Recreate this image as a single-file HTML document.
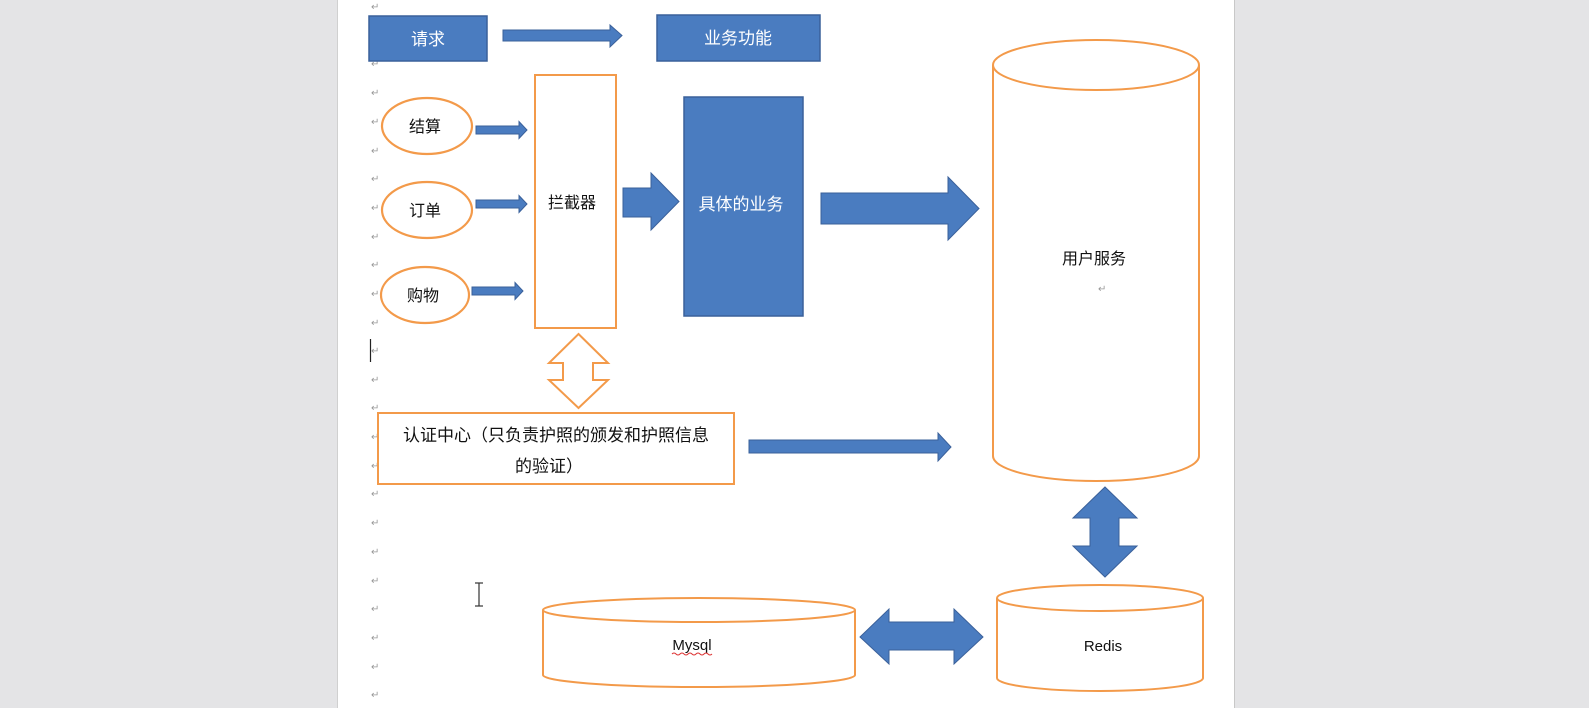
<!DOCTYPE html>
<html><head><meta charset="utf-8"><style>
html,body{margin:0;padding:0;background:#e4e4e6;}
svg{display:block;}
text{font-family:"Liberation Sans","Noto Sans CJK SC",sans-serif;}
</style></head><body>
<svg width="1589" height="708" viewBox="0 0 1589 708" xmlns="http://www.w3.org/2000/svg">
<rect x="0" y="0" width="1589" height="708" fill="#e4e4e6"/>
<rect x="338" y="0" width="896" height="708" fill="#ffffff"/>
<line x1="1234.5" y1="0" x2="1234.5" y2="708" stroke="#c8c8c8" stroke-width="1"/>
<line x1="337.5" y1="0" x2="337.5" y2="708" stroke="#d0d0d0" stroke-width="1"/>

<!-- return marks -->
<g fill="#999" font-size="10">
<text x="371" y="10">↵</text>
<text x="371" y="67">↵</text><text x="371" y="96">↵</text><text x="371" y="125">↵</text>
<text x="371" y="154">↵</text><text x="371" y="182">↵</text><text x="371" y="211">↵</text>
<text x="371" y="240">↵</text><text x="371" y="268">↵</text><text x="371" y="297">↵</text>
<text x="371" y="326">↵</text><text x="371" y="354">↵</text><text x="371" y="383">↵</text>
<text x="371" y="411">↵</text><text x="371" y="440">↵</text><text x="371" y="469">↵</text>
<text x="371" y="497">↵</text><text x="371" y="526">↵</text><text x="371" y="555">↵</text>
<text x="371" y="584">↵</text><text x="371" y="612">↵</text><text x="371" y="641">↵</text>
<text x="371" y="670">↵</text><text x="371" y="698">↵</text>
</g>
<line x1="370.5" y1="339" x2="370.5" y2="362" stroke="#222" stroke-width="1.2"/>
<!-- I-beam cursor -->
<g stroke="#333" stroke-width="1.2" fill="none">
<line x1="479" y1="583" x2="479" y2="606"/>
<line x1="475" y1="583" x2="483" y2="583"/>
<line x1="475" y1="606" x2="483" y2="606"/>
</g>

<!-- top row -->
<rect x="369" y="16" width="118" height="45" fill="#4a7cc0" stroke="#3a609a" stroke-width="1.5"/>
<text x="428" y="45" font-size="17" fill="#fff" text-anchor="middle">请求</text>
<polygon points="503,30 610,30 610,25 622,35.5 610,47 610,41 503,41" fill="#4a7cc0" stroke="#3a609a" stroke-width="1"/>
<rect x="657" y="15" width="163" height="46" fill="#4a7cc0" stroke="#3a609a" stroke-width="1.5"/>
<text x="738" y="44" font-size="17" fill="#fff" text-anchor="middle">业务功能</text>

<!-- ellipses -->
<g fill="#fff" stroke="#f39a4a" stroke-width="2.2">
<ellipse cx="427" cy="126" rx="45" ry="28"/>
<ellipse cx="427" cy="210" rx="45" ry="28"/>
<ellipse cx="425" cy="295" rx="44" ry="28"/>
</g>
<g font-size="16" fill="#111" text-anchor="middle">
<text x="425" y="132">结算</text>
<text x="425" y="216">订单</text>
<text x="423" y="301">购物</text>
</g>
<g fill="#4a7cc0" stroke="#3a609a" stroke-width="1">
<polygon points="476,126 519,126 519,121.5 527,130 519,138.5 519,134 476,134"/>
<polygon points="476,200 519,200 519,195.5 527,204 519,212.5 519,208 476,208"/>
<polygon points="472,287 515,287 515,282.5 523,291 515,299.5 515,295 472,295"/>
</g>

<!-- interceptor -->
<rect x="535" y="75" width="81" height="253" fill="#fff" stroke="#f39a4a" stroke-width="2"/>
<text x="572" y="208" font-size="16" fill="#111" text-anchor="middle">拦截器</text>

<polygon points="623,188 651,188 651,173 679,201.5 651,230 651,217 623,217" fill="#4a7cc0" stroke="#3a609a" stroke-width="1"/>
<rect x="684" y="97" width="119" height="219" fill="#4a7cc0" stroke="#3a609a" stroke-width="1.5"/>
<text x="741" y="210" font-size="17" fill="#fff" text-anchor="middle">具体的业务</text>
<polygon points="821,193 948,193 948,177 979,208.5 948,240 948,224 821,224" fill="#4a7cc0" stroke="#3a609a" stroke-width="1"/>

<!-- user service cylinder -->
<path d="M993,65 L993,456 A103,25 0 0 0 1199,456 L1199,65" fill="#fff" stroke="#f39a4a" stroke-width="2"/>
<ellipse cx="1096" cy="65" rx="103" ry="25" fill="#fff" stroke="#f39a4a" stroke-width="2"/>
<text x="1094" y="264" font-size="16" fill="#111" text-anchor="middle">用户服务</text>
<text x="1098" y="292" font-size="10" fill="#999">↵</text>

<!-- orange up-down arrow -->
<polygon points="578.5,334 608,363 593,363 593,380 608,380 578.5,408 549,380 563,380 563,363 549,363" fill="#fff" stroke="#f39a4a" stroke-width="2"/>

<!-- auth center -->
<rect x="378" y="413" width="356" height="71" fill="#fff" stroke="#f39a4a" stroke-width="2"/>
<text x="556" y="441" font-size="17" fill="#111" text-anchor="middle">认证中心（只负责护照的颁发和护照信息</text>
<text x="549" y="472" font-size="17" fill="#111" text-anchor="middle">的验证）</text>
<polygon points="749,440 938,440 938,433 951,447 938,461 938,453 749,453" fill="#4a7cc0" stroke="#3a609a" stroke-width="1"/>

<!-- vertical blue double arrow -->
<polygon points="1105,487 1137,518 1119,518 1119,546 1137,546 1105,577 1073,546 1090,546 1090,518 1073,518" fill="#4a7cc0" stroke="#3a609a" stroke-width="1"/>

<!-- redis -->
<path d="M997,598 L997,678 A103,13 0 0 0 1203,678 L1203,598" fill="#fff" stroke="#f39a4a" stroke-width="2"/>
<ellipse cx="1100" cy="598" rx="103" ry="13" fill="#fff" stroke="#f39a4a" stroke-width="2"/>
<text x="1103" y="651" font-size="15" fill="#111" text-anchor="middle">Redis</text>

<!-- horizontal double arrow -->
<polygon points="860,637 889,609 889,622 954,622 954,609 983,637 954,664 954,650 889,650 889,664" fill="#4a7cc0" stroke="#3a609a" stroke-width="1"/>

<!-- mysql -->
<path d="M543,610 L543,675 A156,12 0 0 0 855,675 L855,610" fill="#fff" stroke="#f39a4a" stroke-width="2"/>
<ellipse cx="699" cy="610" rx="156" ry="12" fill="#fff" stroke="#f39a4a" stroke-width="2"/>
<text x="692" y="650" font-size="15" fill="#111" text-anchor="middle">Mysql</text>
<path d="M672,654 q2,-2 4,0 t4,0 t4,0 t4,0 t4,0 t4,0 t4,0 t4,0 t4,0 t4,0" fill="none" stroke="#d33" stroke-width="1"/>
</svg>
</body></html>
